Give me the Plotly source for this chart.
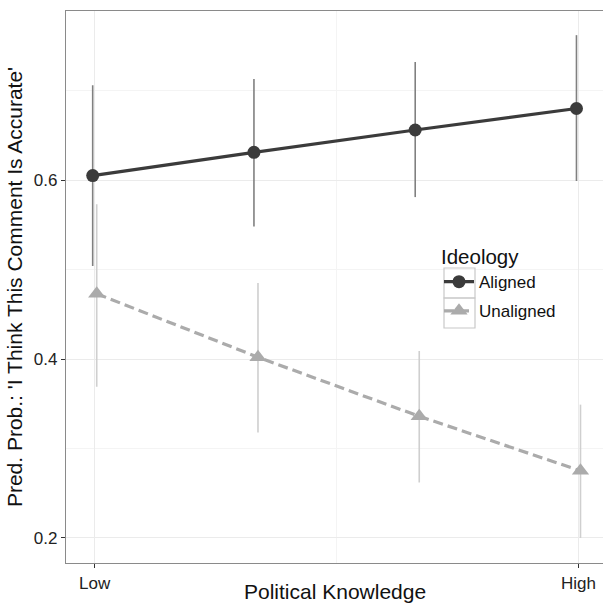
import plotly.graph_objects as go

# Political knowledge levels (1 = Low ... 4 = High)
knowledge = [1, 2, 3, 4]
tick_labels = ["Low", "High"]
tick_positions = [1, 4]

# Predicted probabilities and 95% intervals by ideology alignment
aligned_prob = [0.605, 0.631, 0.656, 0.680]
aligned_upper = [0.706, 0.713, 0.732, 0.762]
aligned_lower = [0.504, 0.548, 0.581, 0.599]

unaligned_prob = [0.473, 0.402, 0.336, 0.275]
unaligned_upper = [0.573, 0.485, 0.409, 0.349]
unaligned_lower = [0.369, 0.318, 0.262, 0.200]

DODGE = 0.0125
FONT = "Liberation Sans, Arial, Helvetica, sans-serif"

def err(prob, upper, lower):
    return ([u - p for u, p in zip(upper, prob)],
            [p - l for p, l in zip(prob, lower)])

a_plus, a_minus = err(aligned_prob, aligned_upper, aligned_lower)
u_plus, u_minus = err(unaligned_prob, unaligned_upper, unaligned_lower)

fig = go.Figure()
fig.add_trace(go.Scatter(
    x=[k - DODGE for k in knowledge], y=aligned_prob, name="Aligned",
    legendgroup="a", mode="lines+markers",
    line=dict(color="#3b3b3b", width=3.2),
    marker=dict(symbol="circle", size=13, color="#3b3b3b"),
    error_y=dict(type="data", symmetric=False, array=a_plus, arrayminus=a_minus,
                 color="#808080", thickness=1.6, width=0),
))
fig.add_trace(go.Scatter(
    x=[k + DODGE for k in knowledge], y=unaligned_prob, name="Unaligned",
    legendgroup="b", mode="lines+markers",
    line=dict(color="#ababab", width=3.2, dash="10px,5px"),
    marker=dict(symbol="triangle-up", size=15, color="#ababab"),
    error_y=dict(type="data", symmetric=False, array=u_plus, arrayminus=u_minus,
                 color="#cfcfcf", thickness=1.6, width=0),
))

# Key boxes around the legend symbols
for y0, y1 in [(268, 298), (298, 328)]:
    fig.add_shape(type="rect", xref="paper", yref="paper",
                  x0=(444 - 66) / 537, x1=(475 - 66) / 537,
                  y0=(563 - y1) / 552, y1=(563 - y0) / 552,
                  line=dict(color="#c8c8c8", width=1.2), fillcolor="rgba(0,0,0,0)",
                  layer="above")

# X-axis title placed as a paper annotation below the tick labels
fig.add_annotation(text="Political Knowledge", xref="paper", yref="paper",
                   x=0.5, y=-(591 - 563) / 552, xanchor="center", yanchor="middle",
                   showarrow=False, font=dict(size=21, color="#111111"))

fig.update_layout(
    width=603, height=611,
    margin=dict(l=66, r=0, t=11, b=48),
    paper_bgcolor="white", plot_bgcolor="white",
    font=dict(family=FONT, color="#222222", size=17),
    showlegend=True,
    legend=dict(
        title=dict(text="Ideology", font=dict(size=20.5, color="#111111")),
        x=(439 - 66) / 537, xanchor="left",
        y=(563 - 237.5) / 552, yanchor="top",
        bgcolor="rgba(0,0,0,0)", borderwidth=0,
        font=dict(size=17, color="#111111"),
        tracegroupgap=4, traceorder="grouped", itemwidth=30,
    ),
    xaxis=dict(
        range=[0.822, 4.152],
        tickvals=tick_positions, ticktext=tick_labels,
        ticks="outside", ticklen=4, tickcolor="#333333", tickwidth=1,
        tickfont=dict(size=17, color="#222222"),
        showgrid=True, gridcolor="#ebebeb", gridwidth=1,
        minor=dict(tickvals=[2.5], showgrid=True, gridcolor="#f4f4f4", ticks=""),
        showline=True, linecolor="#8a8a8a", linewidth=1.2, mirror=True,
        zeroline=False,
    ),
    yaxis=dict(
        range=[0.172, 0.789],
        tickvals=[0.2, 0.4, 0.6], ticktext=["0.2", "0.4", "0.6"],
        ticks="outside", ticklen=4, tickcolor="#333333", tickwidth=1,
        tickfont=dict(size=17, color="#222222"),
        showgrid=True, gridcolor="#ebebeb", gridwidth=1,
        minor=dict(tickvals=[0.3, 0.5, 0.7], showgrid=True, gridcolor="#f4f4f4", ticks=""),
        showline=True, linecolor="#8a8a8a", linewidth=1.2,
        zeroline=False,
        title=dict(text="Pred. Prob.: 'I Think This Comment Is Accurate'",
                   font=dict(size=21, color="#111111"), standoff=5),
    ),
)

fig.write_html("out.html")
